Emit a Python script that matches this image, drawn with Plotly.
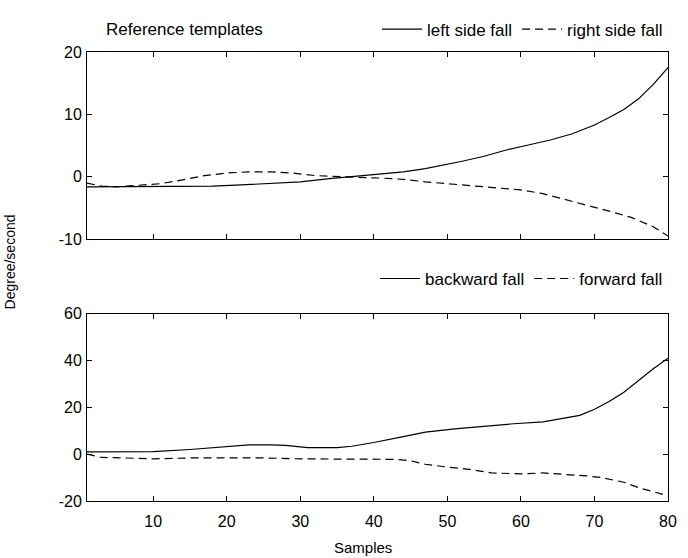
import plotly.graph_objects as go
from plotly.subplots import make_subplots

# Top panel: left / right side fall
left_x = [1, 5, 10, 15, 18, 22, 26, 30, 34, 37, 40, 44, 47, 50, 52, 55, 58, 61, 64, 67, 70, 72, 74, 76, 78, 80]
left_y = [-1.6, -1.6, -1.5, -1.5, -1.5, -1.3, -1.1, -0.8, -0.3, 0.0, 0.3, 0.8, 1.3, 2.0, 2.5, 3.3, 4.3, 5.1, 5.9, 6.9, 8.3, 9.5, 10.8, 12.5, 14.8, 17.5]
right_x = [1, 3, 5, 8, 11, 14, 17, 20, 23, 26, 29, 32, 35, 38, 41, 44, 47, 50, 53, 56, 60, 63, 66, 69, 72, 75, 78, 80]
right_y = [-1.0, -1.5, -1.6, -1.4, -1.1, -0.5, 0.2, 0.6, 0.8, 0.8, 0.6, 0.2, 0.0, -0.1, -0.2, -0.4, -0.8, -1.1, -1.4, -1.8, -2.1, -2.7, -3.6, -4.5, -5.5, -6.5, -8.0, -9.5]

# Bottom panel: backward / forward fall
back_x = [1, 5, 10, 15, 20, 23, 26, 28, 31, 35, 37, 40, 44, 47, 51, 55, 59, 63, 66, 68, 70, 72, 74, 76, 78, 80]
back_y = [1.0, 1.0, 1.1, 2.0, 3.1, 4.0, 4.0, 3.8, 2.8, 2.8, 3.4, 5.0, 7.5, 9.4, 10.8, 12.0, 13.0, 13.8, 15.3, 16.6, 19.2, 22.5, 26.5, 31.5, 36.5, 41.0]
fwd_x = [1, 3, 6, 10, 15, 20, 25, 30, 35, 40, 43, 45, 47, 50, 53, 56, 60, 63, 66, 69, 71, 74, 76, 78, 80]
fwd_y = [0.0, -1.4, -1.6, -2.0, -1.6, -1.5, -1.6, -2.0, -2.0, -2.0, -2.2, -2.8, -4.3, -5.5, -6.5, -8.0, -8.4, -8.0, -8.6, -9.3, -10.0, -12.0, -14.3, -16.0, -17.8]

x_ticks = [10, 20, 30, 40, 50, 60, 70, 80]
x_tick_labels = ["10", "20", "30", "40", "50", "60", "70", "80"]
top_y_ticks = [-10, 0, 10, 20]
top_y_labels = ["-10", "0", "10", "20"]
bot_y_ticks = [-20, 0, 20, 40, 60]
bot_y_labels = ["-20", "0", "20", "40", "60"]

FONT = "Liberation Sans, Arial, sans-serif"

fig = make_subplots(rows=2, cols=1, vertical_spacing=0.166)

line_style = dict(color="black", width=1.2)
fig.add_trace(go.Scatter(x=left_x, y=left_y, mode="lines", name="left side fall",
                         line=dict(**line_style), legend="legend"), row=1, col=1)
fig.add_trace(go.Scatter(x=right_x, y=right_y, mode="lines", name="right side fall",
                         line=dict(**line_style, dash="8px,5px"), legend="legend"), row=1, col=1)
fig.add_trace(go.Scatter(x=back_x, y=back_y, mode="lines", name="backward fall",
                         line=dict(**line_style), legend="legend2"), row=2, col=1)
fig.add_trace(go.Scatter(x=fwd_x, y=fwd_y, mode="lines", name="forward fall",
                         line=dict(**line_style, dash="8px,5px"), legend="legend2"), row=2, col=1)

axis_common = dict(showline=True, linecolor="black", linewidth=1, mirror="ticks",
                   ticks="inside", ticklen=5, tickcolor="black", showgrid=False,
                   zeroline=False, tickfont=dict(family=FONT, size=16, color="black"))

fig.update_xaxes(range=[1, 80], tickvals=x_ticks, ticktext=x_tick_labels,
                 ticklabelstandoff=6, **axis_common)
fig.update_xaxes(showticklabels=False, row=1, col=1)
fig.update_yaxes(range=[-10, 20], tickvals=top_y_ticks, ticktext=top_y_labels,
                 ticklabelstandoff=1, row=1, col=1, **axis_common)
fig.update_yaxes(range=[-20, 60], tickvals=bot_y_ticks, ticktext=bot_y_labels,
                 ticklabelstandoff=1, row=2, col=1, **axis_common)

fig.update_layout(
    width=688, height=558,
    margin=dict(l=87, r=20, t=44, b=57),
    paper_bgcolor="white", plot_bgcolor="white",
    font=dict(family=FONT, size=14, color="black"),
    legend=dict(orientation="h", x=1.0, xanchor="right", y=1.05, yanchor="middle",
                bgcolor="rgba(0,0,0,0)", font=dict(size=17), itemwidth=40,
                tracegroupgap=0, traceorder="normal"),
    legend2=dict(orientation="h", x=1.0, xanchor="right", y=0.4945, yanchor="middle",
                 bgcolor="rgba(0,0,0,0)", font=dict(size=17), itemwidth=40,
                 traceorder="normal"),
    annotations=[
        dict(text="Reference templates", x=0.029, y=1.05, xref="paper", yref="paper",
             xanchor="left", yanchor="middle", showarrow=False, font=dict(size=17)),
        dict(text="Degree/second", x=-0.132, y=0.532, xref="paper", yref="paper",
             xanchor="center", yanchor="middle", textangle=-90, showarrow=False,
             font=dict(size=14)),
        dict(text="Samples", x=0.475, y=-0.103, xref="paper", yref="paper",
             xanchor="center", yanchor="middle", showarrow=False, font=dict(size=15)),
    ],
)

fig.write_html("out.html")
